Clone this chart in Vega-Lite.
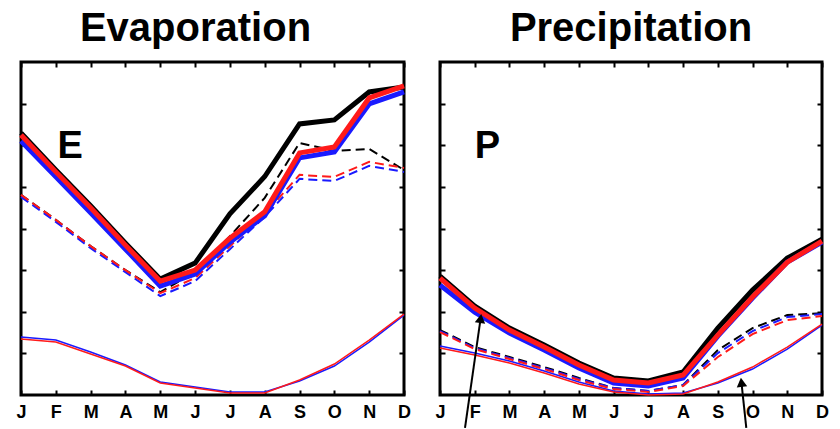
{
  "$schema": "https://vega.github.io/schema/vega-lite/v6.json",
  "padding": {"left": 9, "top": 7, "right": 0, "bottom": 0},
  "background": "white",
  "spacing": 12,
  "config": {
    "view": {"stroke": "black", "strokeWidth": 3},
    "font": "Liberation Sans",
    "axis": {"minExtent": 0}
  },
  "datasets": {
    "lines": [
      {"p":"E","k":"thick","r":"R1","m":0,"v":78.7},{"p":"E","k":"thick","r":"R1","m":1,"v":67.6},{"p":"E","k":"thick","r":"R1","m":2,"v":56.8},{"p":"E","k":"thick","r":"R1","m":3,"v":45.6},{"p":"E","k":"thick","r":"R1","m":4,"v":34.8},{"p":"E","k":"thick","r":"R1","m":5,"v":39.6},{"p":"E","k":"thick","r":"R1","m":6,"v":54.4},{"p":"E","k":"thick","r":"R1","m":7,"v":65.6},{"p":"E","k":"thick","r":"R1","m":8,"v":81.4},{"p":"E","k":"thick","r":"R1","m":9,"v":82.6},{"p":"E","k":"thick","r":"R1","m":10,"v":91.0},{"p":"E","k":"thick","r":"R1","m":11,"v":92.5},
      {"p":"E","k":"thick","r":"R2","m":0,"v":76.3},{"p":"E","k":"thick","r":"R2","m":1,"v":65.5},{"p":"E","k":"thick","r":"R2","m":2,"v":54.7},{"p":"E","k":"thick","r":"R2","m":3,"v":43.8},{"p":"E","k":"thick","r":"R2","m":4,"v":32.7},{"p":"E","k":"thick","r":"R2","m":5,"v":36.3},{"p":"E","k":"thick","r":"R2","m":6,"v":45.9},{"p":"E","k":"thick","r":"R2","m":7,"v":53.8},{"p":"E","k":"thick","r":"R2","m":8,"v":71.2},{"p":"E","k":"thick","r":"R2","m":9,"v":73.0},{"p":"E","k":"thick","r":"R2","m":10,"v":87.4},{"p":"E","k":"thick","r":"R2","m":11,"v":91.0},
      {"p":"E","k":"thick","r":"R3","m":0,"v":78.1},{"p":"E","k":"thick","r":"R3","m":1,"v":67.0},{"p":"E","k":"thick","r":"R3","m":2,"v":56.2},{"p":"E","k":"thick","r":"R3","m":3,"v":45.0},{"p":"E","k":"thick","r":"R3","m":4,"v":34.2},{"p":"E","k":"thick","r":"R3","m":5,"v":37.5},{"p":"E","k":"thick","r":"R3","m":6,"v":47.1},{"p":"E","k":"thick","r":"R3","m":7,"v":55.0},{"p":"E","k":"thick","r":"R3","m":8,"v":72.7},{"p":"E","k":"thick","r":"R3","m":9,"v":74.5},{"p":"E","k":"thick","r":"R3","m":10,"v":89.2},{"p":"E","k":"thick","r":"R3","m":11,"v":92.8},
      {"p":"E","k":"dash","r":"R1","m":0,"v":60.1},{"p":"E","k":"dash","r":"R1","m":1,"v":52.6},{"p":"E","k":"dash","r":"R1","m":2,"v":44.7},{"p":"E","k":"dash","r":"R1","m":3,"v":37.5},{"p":"E","k":"dash","r":"R1","m":4,"v":30.9},{"p":"E","k":"dash","r":"R1","m":5,"v":36.9},{"p":"E","k":"dash","r":"R1","m":6,"v":47.7},{"p":"E","k":"dash","r":"R1","m":7,"v":59.2},{"p":"E","k":"dash","r":"R1","m":8,"v":75.7},{"p":"E","k":"dash","r":"R1","m":9,"v":73.3},{"p":"E","k":"dash","r":"R1","m":10,"v":73.9},{"p":"E","k":"dash","r":"R1","m":11,"v":67.6},
      {"p":"E","k":"dash","r":"R2","m":0,"v":59.5},{"p":"E","k":"dash","r":"R2","m":1,"v":52.0},{"p":"E","k":"dash","r":"R2","m":2,"v":44.1},{"p":"E","k":"dash","r":"R2","m":3,"v":36.9},{"p":"E","k":"dash","r":"R2","m":4,"v":29.7},{"p":"E","k":"dash","r":"R2","m":5,"v":34.2},{"p":"E","k":"dash","r":"R2","m":6,"v":43.8},{"p":"E","k":"dash","r":"R2","m":7,"v":53.5},{"p":"E","k":"dash","r":"R2","m":8,"v":64.9},{"p":"E","k":"dash","r":"R2","m":9,"v":64.3},{"p":"E","k":"dash","r":"R2","m":10,"v":68.8},{"p":"E","k":"dash","r":"R2","m":11,"v":67.0},
      {"p":"E","k":"dash","r":"R3","m":0,"v":60.1},{"p":"E","k":"dash","r":"R3","m":1,"v":52.6},{"p":"E","k":"dash","r":"R3","m":2,"v":44.7},{"p":"E","k":"dash","r":"R3","m":3,"v":37.5},{"p":"E","k":"dash","r":"R3","m":4,"v":30.6},{"p":"E","k":"dash","r":"R3","m":5,"v":35.1},{"p":"E","k":"dash","r":"R3","m":6,"v":44.7},{"p":"E","k":"dash","r":"R3","m":7,"v":54.4},{"p":"E","k":"dash","r":"R3","m":8,"v":66.1},{"p":"E","k":"dash","r":"R3","m":9,"v":65.5},{"p":"E","k":"dash","r":"R3","m":10,"v":70.0},{"p":"E","k":"dash","r":"R3","m":11,"v":68.2},
      {"p":"E","k":"thin","r":"R2","m":0,"v":17.4},{"p":"E","k":"thin","r":"R2","m":1,"v":16.5},{"p":"E","k":"thin","r":"R2","m":2,"v":12.9},{"p":"E","k":"thin","r":"R2","m":3,"v":9.0},{"p":"E","k":"thin","r":"R2","m":4,"v":3.9},{"p":"E","k":"thin","r":"R2","m":5,"v":2.4},{"p":"E","k":"thin","r":"R2","m":6,"v":0.9},{"p":"E","k":"thin","r":"R2","m":7,"v":0.9},{"p":"E","k":"thin","r":"R2","m":8,"v":4.2},{"p":"E","k":"thin","r":"R2","m":9,"v":8.7},{"p":"E","k":"thin","r":"R2","m":10,"v":15.9},{"p":"E","k":"thin","r":"R2","m":11,"v":24.0},
      {"p":"E","k":"thin","r":"R3","m":0,"v":16.8},{"p":"E","k":"thin","r":"R3","m":1,"v":15.9},{"p":"E","k":"thin","r":"R3","m":2,"v":12.3},{"p":"E","k":"thin","r":"R3","m":3,"v":8.7},{"p":"E","k":"thin","r":"R3","m":4,"v":3.6},{"p":"E","k":"thin","r":"R3","m":5,"v":2.1},{"p":"E","k":"thin","r":"R3","m":6,"v":0.6},{"p":"E","k":"thin","r":"R3","m":7,"v":0.6},{"p":"E","k":"thin","r":"R3","m":8,"v":4.5},{"p":"E","k":"thin","r":"R3","m":9,"v":9.3},{"p":"E","k":"thin","r":"R3","m":10,"v":16.5},{"p":"E","k":"thin","r":"R3","m":11,"v":24.3},
      {"p":"P","k":"thick","r":"R1","m":0,"v":35.7},{"p":"P","k":"thick","r":"R1","m":1,"v":26.7},{"p":"P","k":"thick","r":"R1","m":2,"v":20.1},{"p":"P","k":"thick","r":"R1","m":3,"v":15.0},{"p":"P","k":"thick","r":"R1","m":4,"v":9.6},{"p":"P","k":"thick","r":"R1","m":5,"v":5.1},{"p":"P","k":"thick","r":"R1","m":6,"v":4.2},{"p":"P","k":"thick","r":"R1","m":7,"v":6.9},{"p":"P","k":"thick","r":"R1","m":8,"v":20.1},{"p":"P","k":"thick","r":"R1","m":9,"v":31.5},{"p":"P","k":"thick","r":"R1","m":10,"v":41.1},{"p":"P","k":"thick","r":"R1","m":11,"v":46.8},
      {"p":"P","k":"thick","r":"R2","m":0,"v":33.0},{"p":"P","k":"thick","r":"R2","m":1,"v":24.9},{"p":"P","k":"thick","r":"R2","m":2,"v":18.6},{"p":"P","k":"thick","r":"R2","m":3,"v":13.5},{"p":"P","k":"thick","r":"R2","m":4,"v":8.1},{"p":"P","k":"thick","r":"R2","m":5,"v":3.6},{"p":"P","k":"thick","r":"R2","m":6,"v":2.7},{"p":"P","k":"thick","r":"R2","m":7,"v":5.1},{"p":"P","k":"thick","r":"R2","m":8,"v":17.7},{"p":"P","k":"thick","r":"R2","m":9,"v":29.1},{"p":"P","k":"thick","r":"R2","m":10,"v":39.9},{"p":"P","k":"thick","r":"R2","m":11,"v":45.9},
      {"p":"P","k":"thick","r":"R3","m":0,"v":35.1},{"p":"P","k":"thick","r":"R3","m":1,"v":26.1},{"p":"P","k":"thick","r":"R3","m":2,"v":19.5},{"p":"P","k":"thick","r":"R3","m":3,"v":14.4},{"p":"P","k":"thick","r":"R3","m":4,"v":9.0},{"p":"P","k":"thick","r":"R3","m":5,"v":4.5},{"p":"P","k":"thick","r":"R3","m":6,"v":3.6},{"p":"P","k":"thick","r":"R3","m":7,"v":6.0},{"p":"P","k":"thick","r":"R3","m":8,"v":18.0},{"p":"P","k":"thick","r":"R3","m":9,"v":29.4},{"p":"P","k":"thick","r":"R3","m":10,"v":39.9},{"p":"P","k":"thick","r":"R3","m":11,"v":46.2},
      {"p":"P","k":"dash","r":"R1","m":0,"v":19.5},{"p":"P","k":"dash","r":"R1","m":1,"v":14.4},{"p":"P","k":"dash","r":"R1","m":2,"v":11.4},{"p":"P","k":"dash","r":"R1","m":3,"v":8.4},{"p":"P","k":"dash","r":"R1","m":4,"v":5.1},{"p":"P","k":"dash","r":"R1","m":5,"v":2.1},{"p":"P","k":"dash","r":"R1","m":6,"v":1.2},{"p":"P","k":"dash","r":"R1","m":7,"v":3.0},{"p":"P","k":"dash","r":"R1","m":8,"v":13.5},{"p":"P","k":"dash","r":"R1","m":9,"v":20.1},{"p":"P","k":"dash","r":"R1","m":10,"v":24.0},{"p":"P","k":"dash","r":"R1","m":11,"v":24.6},
      {"p":"P","k":"dash","r":"R2","m":0,"v":19.2},{"p":"P","k":"dash","r":"R2","m":1,"v":14.1},{"p":"P","k":"dash","r":"R2","m":2,"v":11.1},{"p":"P","k":"dash","r":"R2","m":3,"v":8.1},{"p":"P","k":"dash","r":"R2","m":4,"v":4.8},{"p":"P","k":"dash","r":"R2","m":5,"v":2.1},{"p":"P","k":"dash","r":"R2","m":6,"v":1.2},{"p":"P","k":"dash","r":"R2","m":7,"v":3.0},{"p":"P","k":"dash","r":"R2","m":8,"v":12.6},{"p":"P","k":"dash","r":"R2","m":9,"v":19.2},{"p":"P","k":"dash","r":"R2","m":10,"v":23.4},{"p":"P","k":"dash","r":"R2","m":11,"v":24.3},
      {"p":"P","k":"dash","r":"R3","m":0,"v":18.9},{"p":"P","k":"dash","r":"R3","m":1,"v":13.8},{"p":"P","k":"dash","r":"R3","m":2,"v":10.8},{"p":"P","k":"dash","r":"R3","m":3,"v":7.8},{"p":"P","k":"dash","r":"R3","m":4,"v":4.5},{"p":"P","k":"dash","r":"R3","m":5,"v":1.8},{"p":"P","k":"dash","r":"R3","m":6,"v":0.9},{"p":"P","k":"dash","r":"R3","m":7,"v":2.7},{"p":"P","k":"dash","r":"R3","m":8,"v":11.4},{"p":"P","k":"dash","r":"R3","m":9,"v":18.3},{"p":"P","k":"dash","r":"R3","m":10,"v":22.5},{"p":"P","k":"dash","r":"R3","m":11,"v":23.7},
      {"p":"P","k":"thin","r":"R2","m":0,"v":14.7},{"p":"P","k":"thin","r":"R2","m":1,"v":12.6},{"p":"P","k":"thin","r":"R2","m":2,"v":10.2},{"p":"P","k":"thin","r":"R2","m":3,"v":7.2},{"p":"P","k":"thin","r":"R2","m":4,"v":3.9},{"p":"P","k":"thin","r":"R2","m":5,"v":1.2},{"p":"P","k":"thin","r":"R2","m":6,"v":0.3},{"p":"P","k":"thin","r":"R2","m":7,"v":0.6},{"p":"P","k":"thin","r":"R2","m":8,"v":3.6},{"p":"P","k":"thin","r":"R2","m":9,"v":7.8},{"p":"P","k":"thin","r":"R2","m":10,"v":13.8},{"p":"P","k":"thin","r":"R2","m":11,"v":21.0},
      {"p":"P","k":"thin","r":"R3","m":0,"v":14.1},{"p":"P","k":"thin","r":"R3","m":1,"v":12.0},{"p":"P","k":"thin","r":"R3","m":2,"v":9.6},{"p":"P","k":"thin","r":"R3","m":3,"v":6.6},{"p":"P","k":"thin","r":"R3","m":4,"v":3.3},{"p":"P","k":"thin","r":"R3","m":5,"v":0.9},{"p":"P","k":"thin","r":"R3","m":6,"v":0.0},{"p":"P","k":"thin","r":"R3","m":7,"v":0.3},{"p":"P","k":"thin","r":"R3","m":8,"v":3.9},{"p":"P","k":"thin","r":"R3","m":9,"v":8.4},{"p":"P","k":"thin","r":"R3","m":10,"v":14.4},{"p":"P","k":"thin","r":"R3","m":11,"v":21.3}
    ],
    "letters": [
      {"p":"E","m":1.05,"v":74.5,"t":"E"},
      {"p":"P","m":1.0,"v":74.5,"t":"P"}
    ],
    "arrows": [
      {"a":"A1","m0":0.72,"v0":-9.9,"m1":1.17,"v1":23.0},
      {"a":"A2","m0":8.82,"v0":-9.9,"m1":8.68,"v1":3.8}
    ]
  },
  "hconcat": [
    {
      "width": 383,
      "height": 333,
      "title": {"text": "Evaporation", "fontSize": 40, "font": "Liberation Sans", "fontWeight": "bold", "color": "black", "offset": 12, "anchor": "middle", "dx": -17},
      "resolve": {"axis": {"x": "independent", "y": "independent"}},
      "layer": [
        {
          "data": {"name": "lines"},
          "transform": [{"filter": "datum.p === 'E' && datum.k === 'thin'"}],
          "mark": {"type": "line", "strokeWidth": 1.5},
          "encoding": {
            "x": {"field": "m", "type": "quantitative", "scale": {"domain": [0, 11], "nice": false, "zero": false},
                  "axis": {"orient": "bottom", "values": [0,1,2,3,4,5,6,7,8,9,10,11], "labelExpr": "['J','F','M','A','M','J','J','A','S','O','N','D'][datum.value]", "title": null, "grid": false, "domain": false, "tickSize": -5, "tickWidth": 2, "tickColor": "black", "labelFlush": false, "labelOverlap": false, "labelBound": false, "labelFont": "Liberation Sans", "labelFontWeight": "bold", "labelFontSize": 18, "labelColor": "black", "labelPadding": 13}},
            "y": {"field": "v", "type": "quantitative", "scale": {"domain": [0, 100], "nice": false, "zero": false},
                  "axis": {"orient": "left", "values": [12.5,25,37.5,50,62.5,75,87.5], "labels": false, "title": null, "grid": false, "domain": false, "tickSize": -5, "tickWidth": 2, "tickColor": "black", "minExtent": 0, "maxExtent": 0}},
            "color": {"field": "r", "type": "nominal", "scale": {"domain": ["R1","R2","R3"], "range": ["#000000","#1a1aff","#ff1a1a"]}, "legend": null}
          }
        },
        {
          "data": {"name": "lines"},
          "transform": [{"filter": "datum.p === 'E' && datum.k === 'dash'"}],
          "mark": {"type": "line", "strokeWidth": 2, "strokeDash": [9, 5]},
          "encoding": {
            "x": {"field": "m", "type": "quantitative", "axis": null},
            "y": {"field": "v", "type": "quantitative", "axis": null},
            "color": {"field": "r", "type": "nominal", "legend": null}
          }
        },
        {
          "data": {"name": "lines"},
          "transform": [{"filter": "datum.p === 'E' && datum.k === 'thick'"}],
          "mark": {"type": "line", "strokeWidth": 5},
          "encoding": {
            "x": {"field": "m", "type": "quantitative", "axis": null},
            "y": {"field": "v", "type": "quantitative", "axis": null},
            "color": {"field": "r", "type": "nominal", "legend": null}
          }
        },
        {
          "data": {"name": "letters"},
          "transform": [{"filter": "datum.p === 'E'"}],
          "mark": {"type": "text", "font": "Liberation Sans", "fontWeight": "bold", "fontSize": 38, "align": "left", "baseline": "middle", "color": "black"},
          "encoding": {
            "x": {"field": "m", "type": "quantitative", "axis": {"orient": "top", "values": [0,1,2,3,4,5,6,7,8,9,10,11], "labels": false, "title": null, "grid": false, "domain": false, "tickSize": -5, "tickWidth": 2, "tickColor": "black", "minExtent": 0, "maxExtent": 0}},
            "y": {"field": "v", "type": "quantitative", "axis": {"orient": "right", "values": [12.5,25,37.5,50,62.5,75,87.5], "labels": false, "title": null, "grid": false, "domain": false, "tickSize": -5, "tickWidth": 2, "tickColor": "black", "minExtent": 0, "maxExtent": 0}},
            "text": {"field": "t"}
          }
        }
      ]
    },
    {
      "width": 382,
      "height": 333,
      "title": {"text": "Precipitation", "fontSize": 40, "font": "Liberation Sans", "fontWeight": "bold", "color": "black", "offset": 12, "anchor": "middle"},
      "resolve": {"axis": {"x": "independent", "y": "independent"}},
      "layer": [
        {
          "data": {"name": "lines"},
          "transform": [{"filter": "datum.p === 'P' && datum.k === 'thin'"}],
          "mark": {"type": "line", "strokeWidth": 1.5},
          "encoding": {
            "x": {"field": "m", "type": "quantitative", "scale": {"domain": [0, 11], "nice": false, "zero": false},
                  "axis": {"orient": "bottom", "values": [0,1,2,3,4,5,6,7,8,9,10,11], "labelExpr": "['J','F','M','A','M','J','J','A','S','O','N','D'][datum.value]", "title": null, "grid": false, "domain": false, "tickSize": -5, "tickWidth": 2, "tickColor": "black", "labelFlush": false, "labelOverlap": false, "labelBound": false, "labelFont": "Liberation Sans", "labelFontWeight": "bold", "labelFontSize": 18, "labelColor": "black", "labelPadding": 13}},
            "y": {"field": "v", "type": "quantitative", "scale": {"domain": [0, 100], "nice": false, "zero": false},
                  "axis": {"orient": "left", "values": [12.5,25,37.5,50,62.5,75,87.5], "labels": false, "title": null, "grid": false, "domain": false, "tickSize": -5, "tickWidth": 2, "tickColor": "black", "minExtent": 0, "maxExtent": 0}},
            "color": {"field": "r", "type": "nominal", "scale": {"domain": ["R1","R2","R3"], "range": ["#000000","#1a1aff","#ff1a1a"]}, "legend": null}
          }
        },
        {
          "data": {"name": "lines"},
          "transform": [{"filter": "datum.p === 'P' && datum.k === 'dash'"}],
          "mark": {"type": "line", "strokeWidth": 2, "strokeDash": [9, 5]},
          "encoding": {
            "x": {"field": "m", "type": "quantitative", "axis": null},
            "y": {"field": "v", "type": "quantitative", "axis": null},
            "color": {"field": "r", "type": "nominal", "legend": null}
          }
        },
        {
          "data": {"name": "lines"},
          "transform": [{"filter": "datum.p === 'P' && datum.k === 'thick'"}],
          "mark": {"type": "line", "strokeWidth": 5},
          "encoding": {
            "x": {"field": "m", "type": "quantitative", "axis": null},
            "y": {"field": "v", "type": "quantitative", "axis": null},
            "color": {"field": "r", "type": "nominal", "legend": null}
          }
        },
        {
          "data": {"name": "letters"},
          "transform": [{"filter": "datum.p === 'P'"}],
          "mark": {"type": "text", "font": "Liberation Sans", "fontWeight": "bold", "fontSize": 38, "align": "left", "baseline": "middle", "color": "black"},
          "encoding": {
            "x": {"field": "m", "type": "quantitative", "axis": {"orient": "top", "values": [0,1,2,3,4,5,6,7,8,9,10,11], "labels": false, "title": null, "grid": false, "domain": false, "tickSize": -5, "tickWidth": 2, "tickColor": "black", "minExtent": 0, "maxExtent": 0}},
            "y": {"field": "v", "type": "quantitative", "axis": {"orient": "right", "values": [12.5,25,37.5,50,62.5,75,87.5], "labels": false, "title": null, "grid": false, "domain": false, "tickSize": -5, "tickWidth": 2, "tickColor": "black", "minExtent": 0, "maxExtent": 0}},
            "text": {"field": "t"}
          }
        },
        {
          "data": {"name": "arrows"},
          "mark": {"type": "rule", "strokeWidth": 2, "color": "black"},
          "encoding": {
            "x": {"field": "m0", "type": "quantitative", "axis": null},
            "x2": {"field": "m1"},
            "y": {"field": "v0", "type": "quantitative", "axis": null},
            "y2": {"field": "v1"}
          }
        },
        {
          "data": {"name": "arrows"},
          "transform": [{"filter": "datum.a === 'A1'"}],
          "mark": {"type": "point", "shape": "triangle-up", "filled": true, "color": "black", "opacity": 1, "size": 110, "angle": 8},
          "encoding": {
            "x": {"field": "m1", "type": "quantitative", "axis": null},
            "y": {"field": "v1", "type": "quantitative", "axis": null}
          }
        },
        {
          "data": {"name": "arrows"},
          "transform": [{"filter": "datum.a === 'A2'"}],
          "mark": {"type": "point", "shape": "triangle-up", "filled": true, "color": "black", "opacity": 1, "size": 110, "angle": -7},
          "encoding": {
            "x": {"field": "m1", "type": "quantitative", "axis": null},
            "y": {"field": "v1", "type": "quantitative", "axis": null}
          }
        }
      ]
    }
  ]
}
